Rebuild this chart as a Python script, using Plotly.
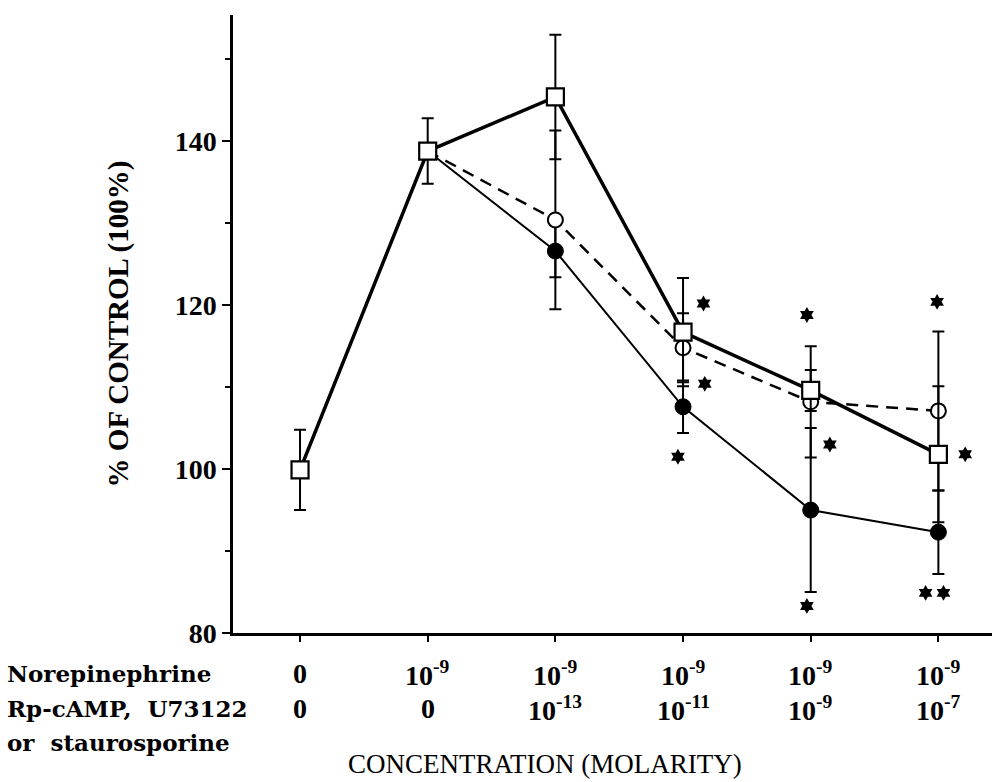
import plotly.graph_objects as go

# ---- data ----
cat_idx = [0, 1, 2, 3, 4, 5]
nore_labels = ["0", "10<sup>-9</sup>", "10<sup>-9</sup>", "10<sup>-9</sup>", "10<sup>-9</sup>", "10<sup>-9</sup>"]
inhib_labels = ["0", "0", "10<sup>-13</sup>", "10<sup>-11</sup>", "10<sup>-9</sup>", "10<sup>-7</sup>"]
row_names = ["Norepinephrine", "Rp-cAMP,  U73122", "or  staurosporine"]

sq_x = [0, 1, 2, 3, 4, 5]
sq_y = [99.9, 138.8, 145.4, 116.7, 109.6, 101.8]
sq_err = [4.9, 4.0, 7.6, 6.6, 2.5, 8.3]

oc_x = [1, 2, 3, 4, 5]
oc_y = [138.8, 130.4, 114.8, 108.2, 107.1]
oc_err = [0, 10.9, 4.2, 6.8, 9.7]

fc_x = [1, 2, 3, 4, 5]
fc_y = [138.8, 126.6, 107.6, 95.0, 92.3]
fc_err = [0, 3.2, 3.2, 10.0, 5.1]

sig_x = [3.16, 3.17, 2.96, 3.97, 4.15, 3.97, 4.99, 5.21, 4.90, 5.04]
sig_y = [120.2, 110.4, 101.5, 118.8, 103.0, 83.3, 120.4, 101.8, 84.9, 84.9]

yticks = [80, 100, 120, 140]
yminor = [90, 110, 130, 150]

FONT = "Liberation Serif"
WIDE = "DejaVu Serif"

fig = go.Figure()

def eb(arr, w=6):
    return dict(type="data", array=arr, visible=True, color="black", thickness=2, width=w)

fig.add_trace(go.Scatter(
    x=fc_x, y=fc_y, mode="lines+markers",
    line=dict(color="black", width=2),
    marker=dict(symbol="circle", size=16, color="black", line=dict(color="black", width=1)),
    error_y=eb(fc_err), showlegend=False, cliponaxis=False))

fig.add_trace(go.Scatter(
    x=oc_x, y=oc_y, mode="lines+markers",
    line=dict(color="black", width=2.5, dash="12px,8px"),
    marker=dict(symbol="circle", size=15, color="white", line=dict(color="black", width=2)),
    error_y=eb(oc_err), showlegend=False, cliponaxis=False))

fig.add_trace(go.Scatter(
    x=sq_x, y=sq_y, mode="lines+markers",
    line=dict(color="black", width=3.5),
    marker=dict(symbol="square", size=17, color="white", line=dict(color="black", width=2.2)),
    error_y=eb(sq_err), showlegend=False, cliponaxis=False))

fig.add_trace(go.Scatter(
    x=sig_x, y=sig_y, mode="markers",
    marker=dict(symbol="hexagram", size=12, color="black"),
    showlegend=False, cliponaxis=False))

ann = []
row_py = [673, 708, 742]
for txt, py in zip(row_names, row_py):
    ann.append(dict(text=txt, xref="paper", yref="paper", x=(5 - 233) / 759, y=0,
                    xanchor="left", yanchor="middle", yshift=-(py - 633), showarrow=False,
                    font=dict(family=WIDE, size=23, color="black", weight="bold")))
for i, lab in zip(cat_idx, nore_labels):
    ann.append(dict(text=lab, xref="x", yref="paper", x=i, y=0, xanchor="center",
                    yanchor="middle", yshift=-(row_py[0] - 633), showarrow=False,
                    font=dict(family=FONT, size=28, color="black", weight="bold")))
for i, lab in zip(cat_idx, inhib_labels):
    ann.append(dict(text=lab, xref="x", yref="paper", x=i, y=0, xanchor="center",
                    yanchor="middle", yshift=-(row_py[1] - 633), showarrow=False,
                    font=dict(family=FONT, size=28, color="black", weight="bold")))
ann.append(dict(text="CONCENTRATION (MOLARITY)", xref="paper", yref="paper",
                x=(545 - 233) / 759, y=0, xanchor="center", yanchor="bottom",
                yshift=-(781 - 633), showarrow=False,
                font=dict(family=FONT, size=27, color="black")))

fig.update_layout(
    width=992, height=782,
    margin=dict(l=233, r=0, t=15, b=149),
    paper_bgcolor="white", plot_bgcolor="white",
    annotations=ann,
    xaxis=dict(range=[-0.525, 5.42], showgrid=False, zeroline=False,
               showline=True, linecolor="black", linewidth=2.5,
               tickvals=cat_idx, ticks="outside", ticklen=6, tickwidth=2,
               tickcolor="black", showticklabels=False),
    yaxis=dict(range=[80, 155.4], showgrid=False, zeroline=False,
               showline=True, linecolor="black", linewidth=2.5,
               tickvals=yticks, ticks="outside", ticklen=8, tickwidth=2,
               tickcolor="black",
               minor=dict(tickvals=yminor, ticks="outside", ticklen=5,
                          tickwidth=2, tickcolor="black"),
               tickfont=dict(family=FONT, size=28, color="black", weight="bold"),
               title=dict(text="% OF CONTROL (100%)", standoff=38,
                          font=dict(family=FONT, size=29, color="black", weight="bold"))),
)

fig.write_html("out.html")
